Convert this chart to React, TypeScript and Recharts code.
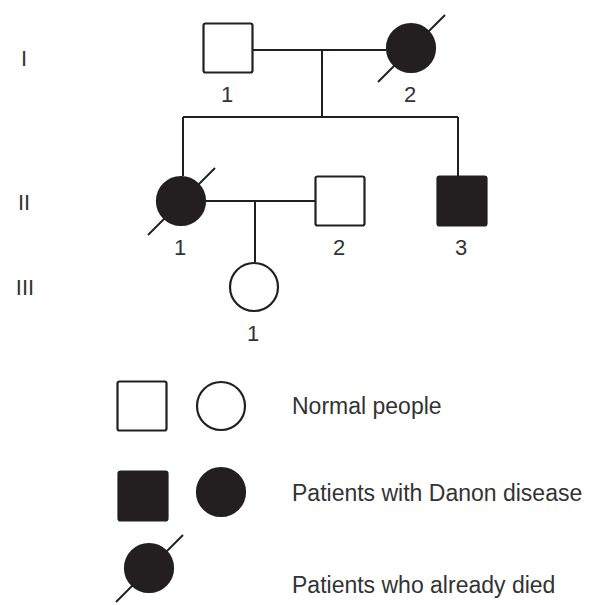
import React from "react";
import { ScatterChart, Scatter, XAxis, YAxis, ReferenceLine } from "recharts";

// pedigree members (layout units)
const memberLabels = ["1", "2", "1", "2", "3", "1"];
const memberSex = ["M", "F", "F", "M", "M", "F"];
const memberAffected = [false, true, true, false, true, false];
const memberDeceased = [false, true, true, false, false, false];
const memberX = [228, 411, 181, 340, 462, 254];
const memberY = [48, 48, 201, 201, 201, 287];

const generationLabels = ["I", "II", "III"];
const generationX = [24, 24, 25];
const generationY = [58, 202, 287];

// mating / sibship / descent lines: [x1, y1, x2, y2]
const connectors = [
  [253, 50, 386, 50],
  [322, 50, 322, 117],
  [183, 117, 458, 117],
  [183, 117, 183, 176],
  [458, 117, 458, 176],
  [206, 201, 316, 201],
  [255, 201, 255, 262],
];

const legendSex = ["M", "F", "M", "F", "F"];
const legendAffected = [false, false, true, true, true];
const legendDeceased = [false, false, false, false, true];
const legendX = [142, 221, 143, 221, 149];
const legendY = [406, 406, 496, 492, 568];

const legendTexts = ["Normal people", "Patients with Danon disease", "Patients who already died"];
const legendTextX = [292, 292, 292];
const legendTextY = [406, 493, 585];

const INK = "#231f20";
const FONT = "'Liberation Sans', Arial, sans-serif";

const members = memberLabels.map((label, i) => ({
  x: memberX[i],
  y: memberY[i],
  label,
  sex: memberSex[i],
  affected: memberAffected[i],
  deceased: memberDeceased[i],
}));

const legendSymbols = legendSex.map((sex, i) => ({
  x: legendX[i],
  y: legendY[i],
  label: "",
  sex,
  affected: legendAffected[i],
  deceased: legendDeceased[i],
}));

const generations = generationLabels.map((text, i) => ({ x: generationX[i], y: generationY[i], text }));
const legendLabels = legendTexts.map((text, i) => ({ x: legendTextX[i], y: legendTextY[i], text }));

const Symbol = (props: any) => {
  const { cx, cy, payload } = props;
  const fill = payload.affected ? INK : "#fff";
  const half = 24.5;
  return (
    <g>
      {payload.sex === "M" ? (
        <rect
          x={cx - half}
          y={cy - half}
          width={half * 2}
          height={half * 2}
          rx={2}
          fill={fill}
          stroke={INK}
          strokeWidth={2.2}
        />
      ) : (
        <circle cx={cx} cy={cy} r={24} fill={fill} stroke={INK} strokeWidth={2.2} />
      )}
      {payload.deceased && (
        <line x1={cx - 33} y1={cy + 34} x2={cx + 34} y2={cy - 33} stroke={INK} strokeWidth={2} />
      )}
      {payload.label && (
        <text
          x={cx - 1}
          y={cy + 46}
          textAnchor="middle"
          dominantBaseline="central"
          fontFamily={FONT}
          fontSize={22}
          fill="#333"
        >
          {payload.label}
        </text>
      )}
    </g>
  );
};

const TextMark = (anchor: "start" | "middle") => (props: any) => {
  const { cx, cy, payload } = props;
  return (
    <text
      x={cx}
      y={cy}
      textAnchor={anchor}
      dominantBaseline="central"
      fontFamily={FONT}
      fontSize={anchor === "start" ? 23 : 22}
      fill="#333"
    >
      {payload.text}
    </text>
  );
};

export default function App() {
  return (
    <div style={{ position: "absolute", left: 0, top: 0, background: "#fff" }}>
      <ScatterChart width={594} height={605} margin={{ top: 0, right: 0, bottom: 0, left: 0 }}>
        <XAxis type="number" dataKey="x" domain={[0, 594]} hide />
        <YAxis type="number" dataKey="y" domain={[0, 605]} reversed hide />
        {connectors.map(([x1, y1, x2, y2], i) => (
          <ReferenceLine
            key={i}
            segment={[
              { x: x1, y: y1 },
              { x: x2, y: y2 },
            ]}
            stroke={INK}
            strokeWidth={2}
          />
        ))}
        <Scatter data={members} shape={Symbol} isAnimationActive={false} />
        <Scatter data={legendSymbols} shape={Symbol} isAnimationActive={false} />
        <Scatter data={generations} shape={TextMark("middle")} isAnimationActive={false} />
        <Scatter data={legendLabels} shape={TextMark("start")} isAnimationActive={false} />
      </ScatterChart>
    </div>
  );
}
